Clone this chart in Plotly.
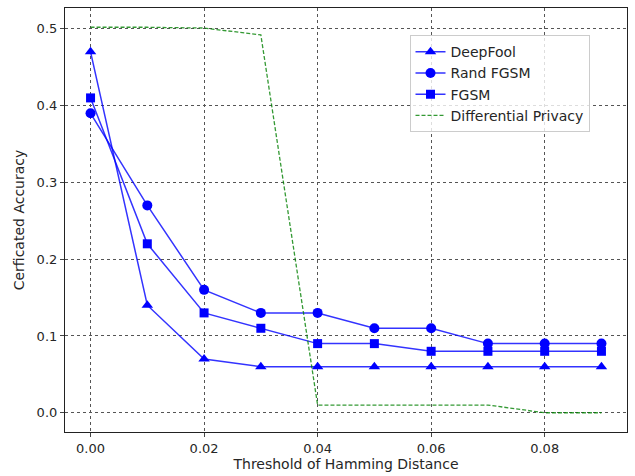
import plotly.graph_objects as go

thresholds = [0.0, 0.01, 0.02, 0.03, 0.04, 0.05, 0.06, 0.07, 0.08, 0.09]
deepfool = [0.47, 0.14, 0.07, 0.06, 0.06, 0.06, 0.06, 0.06, 0.06, 0.06]
rand_fgsm = [0.39, 0.27, 0.16, 0.13, 0.13, 0.11, 0.11, 0.09, 0.09, 0.09]
fgsm = [0.41, 0.22, 0.13, 0.11, 0.09, 0.09, 0.08, 0.08, 0.08, 0.08]
diff_privacy = [0.502, 0.502, 0.501, 0.492, 0.01, 0.01, 0.01, 0.01, 0.0, 0.0]

x_ticks = [0.0, 0.02, 0.04, 0.06, 0.08]
x_tick_text = ["0.00", "0.02", "0.04", "0.06", "0.08"]
y_ticks = [0.0, 0.1, 0.2, 0.3, 0.4, 0.5]
y_tick_text = ["0.0", "0.1", "0.2", "0.3", "0.4", "0.5"]

line_blue = "rgba(0,0,255,0.8)"
fig = go.Figure()
fig.add_trace(go.Scatter(x=thresholds, y=deepfool, name="DeepFool", mode="lines+markers",
                         line=dict(color=line_blue, width=1.5),
                         marker=dict(symbol="triangle-up", size=10, color="blue")))
fig.add_trace(go.Scatter(x=thresholds, y=rand_fgsm, name="Rand FGSM", mode="lines+markers",
                         line=dict(color=line_blue, width=1.5),
                         marker=dict(symbol="circle", size=10, color="blue")))
fig.add_trace(go.Scatter(x=thresholds, y=fgsm, name="FGSM", mode="lines+markers",
                         line=dict(color=line_blue, width=1.5),
                         marker=dict(symbol="square", size=9, color="blue")))
fig.add_trace(go.Scatter(x=thresholds, y=diff_privacy, name="Differential Privacy", mode="lines",
                         line=dict(color="rgba(0,128,0,0.8)", width=1.3, dash="4px,2px")))

axis_common = dict(showline=True, linecolor="#222222", linewidth=1.2, mirror=True,
                   ticks="outside", ticklen=4, tickcolor="#444444", automargin=False,
                   showgrid=True, gridcolor="#555555", griddash="dot", gridwidth=0.5,
                   zeroline=False, tickfont=dict(family="DejaVu Sans", size=13, color="#262626"))
fig.update_xaxes(range=[-0.0045, 0.0945], tickvals=x_ticks, ticktext=x_tick_text,
                 title=dict(text="Threshold of Hamming Distance", standoff=4,
                            font=dict(family="DejaVu Sans", size=14, color="#262626")),
                 **axis_common)
fig.update_yaxes(range=[-0.0251, 0.5271], tickvals=y_ticks, ticktext=y_tick_text,
                 title=dict(text="Cerficated Accuracy", standoff=8,
                            font=dict(family="DejaVu Sans", size=14, color="#262626")),
                 **axis_common)
fig.update_layout(width=635, height=476, margin=dict(l=65, r=8, t=8, b=44),
                  plot_bgcolor="white", paper_bgcolor="white",
                  font=dict(family="DejaVu Sans", size=13, color="#262626"),
                  legend=dict(x=0.613, y=0.936, xanchor="left", yanchor="top",
                              bgcolor="rgba(255,255,255,0.8)", bordercolor="#cccccc", borderwidth=1,
                              font=dict(family="DejaVu Sans", size=14, color="#262626"),
                              tracegroupgap=0))
fig.write_html("out.html", config={"displayModeBar": False},
               post_script="document.body.style.margin='0';")
